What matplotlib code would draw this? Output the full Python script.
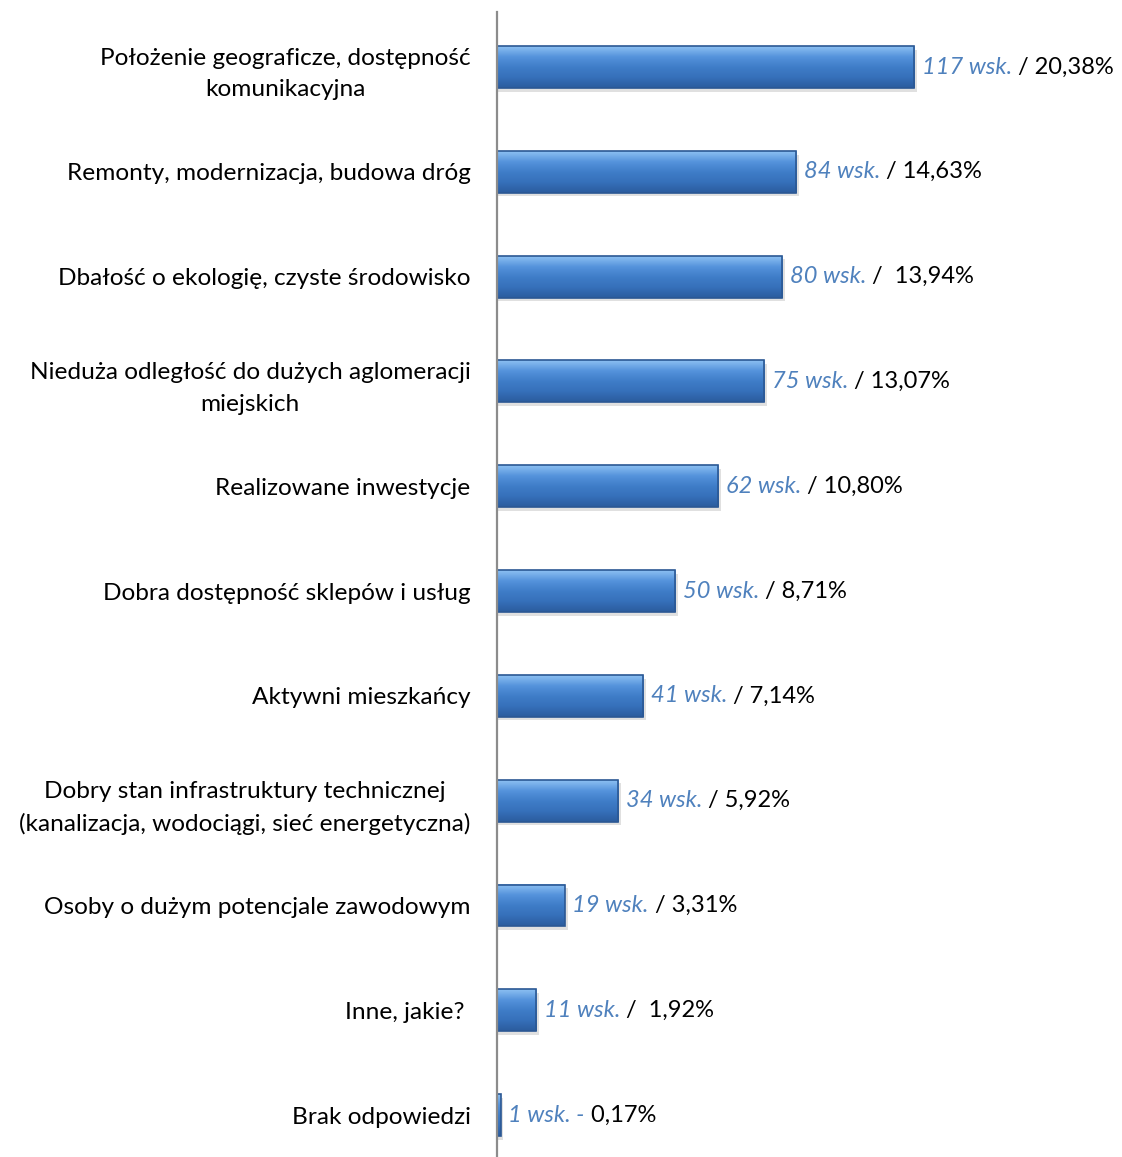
import numpy as np
import matplotlib.pyplot as plt
from matplotlib.colors import LinearSegmentedColormap

plt.rcParams['font.family'] = ['Lato', 'DejaVu Sans']

categories = [
    "Położenie geograficze, dostępność\nkomunikacyjna",
    "Remonty, modernizacja, budowa dróg",
    "Dbałość o ekologię, czyste środowisko",
    "Nieduża odległość do dużych aglomeracji\nmiejskich",
    "Realizowane inwestycje",
    "Dobra dostępność sklepów i usług",
    "Aktywni mieszkańcy",
    "Dobry stan infrastruktury technicznej\n(kanalizacja, wodociągi, sieć energetyczna)",
    "Osoby o dużym potencjale zawodowym",
    "Inne, jakie? ",
    "Brak odpowiedzi",
]
counts = [117, 84, 80, 75, 62, 50, 41, 34, 19, 11, 1]
count_labels = ["117 wsk.", "84 wsk.", "80 wsk.", "75 wsk.", "62 wsk.", "50 wsk.",
                "41 wsk.", "34 wsk.", "19 wsk.", "11 wsk.", "1 wsk. -"]
pct_labels = [" / 20,38%", " / 14,63%", " /  13,94%", " / 13,07%", " / 10,80%",
              " / 8,71%", " / 7,14%", " / 5,92%", " / 3,31%", " /  1,92%", " 0,17%"]

fig = plt.figure(figsize=(11.22, 11.57), dpi=100)
ax = fig.add_axes([497 / 1122, 0.0, 1 - 497 / 1122, 1 - 12 / 1157])

y = np.arange(len(categories))
h = 0.4

# gradient for the bars (light at top, darker at bottom)
cmap = LinearSegmentedColormap.from_list("bar", ["#8CC0F2", "#5593DC", "#3F7DC8", "#3670BA", "#2B5C9E"])
grad = np.linspace(0, 1, 64).reshape(-1, 1)

for yi, c in zip(y, counts):
    # soft shadow
    ax.barh(yi + 0.035, c + 0.4, height=h, left=0.4, color="#000000", alpha=0.12, zorder=1)
    ax.imshow(grad, extent=(0, c, yi + h / 2, yi - h / 2), cmap=cmap, aspect="auto",
              zorder=2, interpolation="bilinear")
    ax.barh(yi, c, height=h, fill=False, edgecolor="#2B5894", linewidth=1.2, zorder=3)

for yi, c, cl, pl in zip(y, counts, count_labels, pct_labels):
    t1 = ax.annotate(cl, xy=(c, yi), xytext=(5.5, 0), textcoords="offset points",
                     va="center", ha="left", fontsize=17, style="italic", color="#4F81BD")
    ax.annotate(pl, xy=(1, 0), xycoords=t1, va="bottom", ha="left",
                fontsize=17, color="black")

ax.set_xlim(0, (1122 - 497) / 3.565)
ax.set_ylim(10.40, -0.525)
ax.set_yticks(y)
ax.set_yticklabels(categories, fontsize=17.6)
for lab in ax.get_yticklabels():
    lab.set_multialignment("center")
    lab.set_linespacing(1.6)
ax.tick_params(axis="y", length=0, pad=19)
ax.set_xticks([])
for s in ["top", "right", "bottom"]:
    ax.spines[s].set_visible(False)
ax.spines["left"].set_color("#8C8C8C")
ax.spines["left"].set_linewidth(1.6)
ax.spines["left"].set_zorder(5)

fig.savefig("out.png", dpi=100)
